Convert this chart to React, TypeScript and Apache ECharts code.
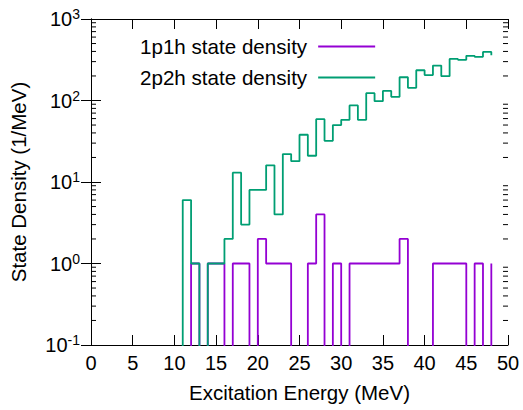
import React, { useEffect, useRef } from "react";
import * as echarts from "echarts";

const energies = [
  0, 1, 2, 3, 4, 5, 6, 7, 8, 9, 10, 11, 12, 13, 14, 15, 16, 17, 18, 19, 20, 21, 22, 23, 24,
  25, 26, 27, 28, 29, 30, 31, 32, 33, 34, 35, 36, 37, 38, 39, 40, 41, 42, 43, 44, 45, 46, 47, 48,
];
const density1p1h = [
  0, 0, 0, 0, 0, 0, 0, 0, 0, 0, 0, 0, 1, 0, 1, 1, 0, 1, 1, 0, 2, 1, 1, 1, 0,
  0, 1, 4, 0, 1, 0, 1, 1, 1, 1, 1, 1, 2, 0, 0, 0, 1, 1, 1, 1, 0, 1, 0, 1,
];
const density2p2h = [
  0, 0, 0, 0, 0, 0, 0, 0, 0, 0, 0, 6, 1, 0, 1, 1, 2, 13, 3, 8, 8, 16, 4, 22, 18,
  38, 21, 59, 32, 50, 58, 87, 58, 123, 98, 131, 111, 193, 143, 235, 205, 268, 199, 324, 316, 353, 343, 395, 359,
];
const seriesNames = ["1p1h state density", "2p2h state density"];
const xTicks = [0, 5, 10, 15, 20, 25, 30, 35, 40, 45, 50];
const yMinorTicks = [
  0.2, 0.3, 0.4, 0.5, 0.6, 0.7, 0.8, 0.9,
  2, 3, 4, 5, 6, 7, 8, 9,
  20, 30, 40, 50, 60, 70, 80, 90,
  200, 300, 400, 500, 600, 700, 800, 900,
];

const FONT = "'Liberation Sans', Arial, sans-serif";
const BELOW = 1e-3; // zero counts drawn below the axis (clipped)

function toPairs(ys: number[]) {
  return energies.map((x, i) => [x, ys[i] === 0 ? BELOW : ys[i]]);
}

export default function App() {
  const ref = useRef<HTMLDivElement>(null);
  useEffect(() => {
    if (!ref.current) return;
    const chart = echarts.init(ref.current, null, { renderer: "svg" });
    const xMin = xTicks[0];
    const xMax = xTicks[xTicks.length - 1];
    const tickLen = 10;
    const minorLen = 5;
    const xAxisBase = {
      type: "value",
      min: xMin,
      max: xMax,
      interval: 5,
      splitLine: { show: false },
      axisLine: { show: true, lineStyle: { color: "#000", width: 1 } },
      axisTick: { show: true, inside: true, length: tickLen, lineStyle: { color: "#000" } },
    };
    const yAxisBase = {
      type: "log",
      logBase: 10,
      min: 0.1,
      max: 1000,
      splitLine: { show: false },
      axisLine: { show: true, lineStyle: { color: "#000", width: 1 } },
      axisTick: { show: true, inside: true, length: tickLen, lineStyle: { color: "#000" } },
    };
    chart.setOption({
      animation: false,
      backgroundColor: "#fff",
      textStyle: { fontFamily: FONT },
      grid: { left: 91, right: 15, top: 19, bottom: 65, containLabel: false },
      legend: {
        data: seriesNames,
        orient: "vertical",
        align: "right",
        left: 135,
        top: 31,
        icon: "rect",
        itemWidth: 57,
        itemHeight: 2,
        itemGap: 10,
        selectedMode: false,
        textStyle: { fontSize: 20.6, color: "#000", fontFamily: FONT, padding: [0, 6, 0, 0], lineHeight: 20 },
      },
      xAxis: [
        {
          ...xAxisBase,
          position: "bottom",
          name: "Excitation Energy (MeV)",
          nameLocation: "middle",
          nameGap: 37,
          nameTextStyle: { fontSize: 20.5, color: "#000", fontFamily: FONT },
          axisLabel: { fontSize: 20, color: "#000", margin: 8, fontFamily: FONT },
        },
        {
          ...xAxisBase,
          position: "top",
          axisLabel: { show: false },
        },
      ],
      yAxis: [
        {
          ...yAxisBase,
          position: "left",
          name: "State Density (1/MeV)",
          nameLocation: "middle",
          nameGap: 62,
          nameTextStyle: { fontSize: 20.5, color: "#000", fontFamily: FONT },
          axisLabel: {
            margin: 11,
            formatter: (v: number) => `{b|10}{s|${Math.round(Math.log10(v))}}`,
            rich: {
              b: { fontSize: 20, color: "#000", fontFamily: FONT },
              s: { fontSize: 14, color: "#000", fontFamily: FONT, verticalAlign: "top", padding: [0, 0, 10, 0] },
            },
          },
        },
        {
          ...yAxisBase,
          position: "right",
          axisLabel: { show: false },
        },
      ],
      series: [
        {
          name: seriesNames[0],
          type: "line",
          step: "end",
          data: toPairs(density1p1h),
          showSymbol: false,
          symbol: "none",
          clip: true,
          color: "#9400d3",
          lineStyle: { color: "#9400d3", width: 1.8 },
          xAxisIndex: 0,
          yAxisIndex: 0,
          z: 2,
        },
        {
          name: seriesNames[1],
          type: "line",
          step: "end",
          data: toPairs(density2p2h),
          showSymbol: false,
          symbol: "none",
          clip: true,
          color: "#009e73",
          lineStyle: { color: "#009e73", width: 1.8 },
          xAxisIndex: 0,
          yAxisIndex: 0,
          z: 3,
        },
        {
          type: "custom",
          xAxisIndex: 0,
          yAxisIndex: 0,
          silent: true,
          clip: false,
          data: yMinorTicks.map((v) => [xMin, v]),
          encode: { x: 0, y: 1 },
          renderItem: (params: any, api: any) => {
            const v = api.value(1);
            const pl = api.coord([xMin, v]);
            const pr = api.coord([xMax, v]);
            return {
              type: "group",
              children: [
                { type: "line", shape: { x1: pl[0], y1: pl[1], x2: pl[0] + minorLen, y2: pl[1] }, style: { stroke: "#000", lineWidth: 1 } },
                { type: "line", shape: { x1: pr[0] - minorLen, y1: pr[1], x2: pr[0], y2: pr[1] }, style: { stroke: "#000", lineWidth: 1 } },
              ],
            };
          },
          z: 1,
        },
      ],
    });
    return () => chart.dispose();
  }, []);
  return (
    <div
      ref={ref}
      style={{ position: "fixed", left: 0, top: 0, width: 523, height: 410, background: "#fff" }}
    />
  );
}
